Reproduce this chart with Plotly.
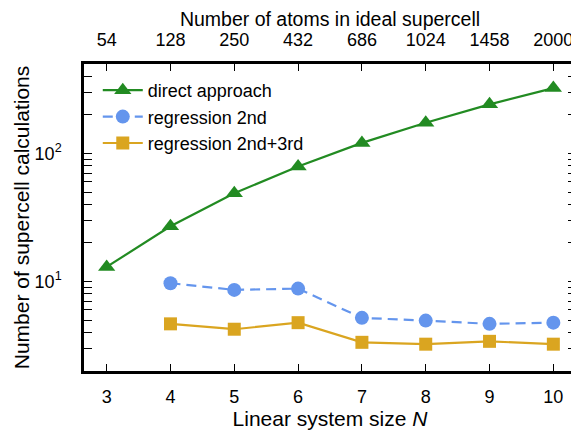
import plotly.graph_objects as go

N = [3, 4, 5, 6, 7, 8, 9, 10]
atoms = [54, 128, 250, 432, 686, 1024, 1458, 2000]
direct = [13, 27, 49, 79, 121, 174, 242, 324]
N_reg = [4, 5, 6, 7, 8, 9, 10]
reg2 = [9.7, 8.6, 8.8, 5.2, 4.95, 4.67, 4.77]
reg23 = [4.67, 4.24, 4.77, 3.35, 3.24, 3.41, 3.24]

FONT = "Liberation Sans, Arial, sans-serif"
green = "#228B22"
blue = "#6495ED"
gold = "#DAA520"

fig = go.Figure()
fig.add_trace(go.Scatter(x=N, y=direct, name="direct approach", mode="lines+markers",
                         line=dict(color=green, width=2.2),
                         marker=dict(symbol="triangle-up", size=15, color=green)))
fig.add_trace(go.Scatter(x=N_reg, y=reg2, name="regression 2nd", mode="lines+markers",
                         line=dict(color=blue, width=2.2, dash="10px,6px"),
                         marker=dict(symbol="circle", size=14, color=blue)))
fig.add_trace(go.Scatter(x=N_reg, y=reg23, name="regression 2nd+3rd", mode="lines+markers",
                         line=dict(color=gold, width=2.2),
                         marker=dict(symbol="square", size=13, color=gold)))
# invisible trace for the top axis
fig.add_trace(go.Scatter(x=N, y=direct, xaxis="x2", mode="markers",
                         marker=dict(opacity=0), showlegend=False, hoverinfo="skip"))

xr = [2.645, 10.355]
minor_vals = [2, 3, 4, 5, 6, 7, 8, 9, 20, 30, 40, 50, 60, 70, 80, 90, 200, 300, 400, 500]

# the page body adds an 8px margin, so the figure is 8px smaller than the window
fig.update_layout(
    width=571, height=426,
    margin=dict(l=76, r=3, t=56, b=63, autoexpand=False),
    paper_bgcolor="white", plot_bgcolor="white",
    font=dict(family=FONT, size=18, color="black"),
    showlegend=True,
    legend=dict(x=0.028, y=0.974, xanchor="left", yanchor="top",
                bgcolor="rgba(0,0,0,0)", font=dict(size=18, family=FONT),
                itemwidth=40, tracegroupgap=0),
    xaxis=dict(range=xr, tickvals=N, ticktext=[str(v) for v in N],
               ticks="inside", ticklen=7, tickwidth=1.2, tickcolor="black",
               showline=True, linecolor="black", linewidth=2.5, mirror="allticks",
               showgrid=False, zeroline=False, automargin=False, ticklabelstandoff=8,
               title=dict(text="Linear system size <i>N</i>", font=dict(size=21), standoff=5),
               tickfont=dict(size=18)),
    xaxis2=dict(range=xr, overlaying="x", side="top", tickvals=N,
                ticktext=[str(a) for a in atoms], ticks="", showline=False,
                showgrid=False, zeroline=False, automargin=False, ticklabelstandoff=13,
                title=dict(text="Number of atoms in ideal supercell", font=dict(size=19.5), standoff=6),
                tickfont=dict(size=18)),
    yaxis=dict(type="log", range=[0.30103, 2.69897],
               tickvals=[10, 100], ticktext=["10<sup>1</sup>", "10<sup>2</sup>"],
               ticks="inside", ticklen=8, tickwidth=1.2, tickcolor="black",
               minor=dict(tickvals=minor_vals, ticks="inside", ticklen=4, tickwidth=1.2,
                          tickcolor="black", showgrid=False),
               showline=True, linecolor="black", linewidth=2.5, mirror="allticks",
               showgrid=False, zeroline=False, automargin=False, ticklabelstandoff=16,
               title=dict(text="Number of supercell calculations", font=dict(size=21), standoff=0),
               tickfont=dict(size=18)),
)

fig.write_html("out.html")
